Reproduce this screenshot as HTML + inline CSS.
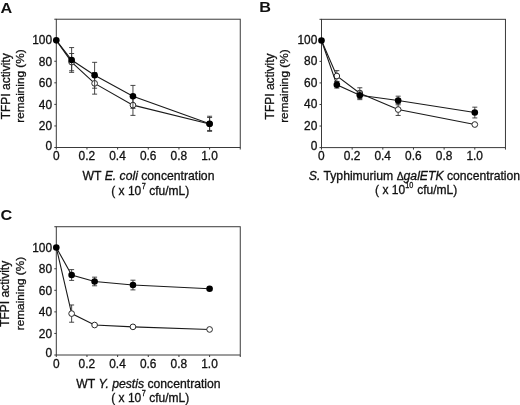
<!DOCTYPE html>
<html><head><meta charset="utf-8"><title>Figure</title>
<style>
html,body{margin:0;padding:0;background:#fff;}
body{width:520px;height:405px;overflow:hidden;}
svg{display:block;position:absolute;left:0;top:0;will-change:transform;transform:translateZ(0);}
svg text{font-family:"Liberation Sans",sans-serif;fill:#111;stroke:#111;stroke-width:0.3px;}
svg text.L{stroke:none;}
</style></head><body>
<svg width="520" height="405" viewBox="0 0 520 405">
<rect width="520" height="405" fill="#fff"/>
<rect x="56.30" y="19.22" width="183.96" height="128.28" fill="none" stroke="#3a3a3a" stroke-width="1"/>
<line x1="54.30" x2="56.30" y1="147.50" y2="147.50" stroke="#3a3a3a" stroke-width="1"/>
<line x1="54.30" x2="56.30" y1="125.94" y2="125.94" stroke="#3a3a3a" stroke-width="1"/>
<line x1="54.30" x2="56.30" y1="104.38" y2="104.38" stroke="#3a3a3a" stroke-width="1"/>
<line x1="54.30" x2="56.30" y1="82.82" y2="82.82" stroke="#3a3a3a" stroke-width="1"/>
<line x1="54.30" x2="56.30" y1="61.26" y2="61.26" stroke="#3a3a3a" stroke-width="1"/>
<line x1="54.30" x2="56.30" y1="39.70" y2="39.70" stroke="#3a3a3a" stroke-width="1"/>
<line x1="54.30" x2="56.30" y1="19.22" y2="19.22" stroke="#3a3a3a" stroke-width="1"/>
<line x1="86.96" x2="86.96" y1="147.50" y2="149.50" stroke="#3a3a3a" stroke-width="1"/>
<line x1="117.62" x2="117.62" y1="147.50" y2="149.50" stroke="#3a3a3a" stroke-width="1"/>
<line x1="148.28" x2="148.28" y1="147.50" y2="149.50" stroke="#3a3a3a" stroke-width="1"/>
<line x1="178.94" x2="178.94" y1="147.50" y2="149.50" stroke="#3a3a3a" stroke-width="1"/>
<line x1="209.60" x2="209.60" y1="147.50" y2="149.50" stroke="#3a3a3a" stroke-width="1"/>
<line x1="56.30" x2="56.30" y1="147.50" y2="149.50" stroke="#3a3a3a" stroke-width="1"/>
<line x1="240.26" x2="240.26" y1="147.50" y2="149.50" stroke="#3a3a3a" stroke-width="1"/>
<text x="52.10" y="149.70" text-anchor="end" font-size="11.9">0</text>
<text x="52.10" y="130.44" text-anchor="end" font-size="11.9">20</text>
<text x="52.10" y="108.88" text-anchor="end" font-size="11.9">40</text>
<text x="52.10" y="87.32" text-anchor="end" font-size="11.9">60</text>
<text x="52.10" y="65.76" text-anchor="end" font-size="11.9">80</text>
<text x="52.10" y="44.20" text-anchor="end" font-size="11.9">100</text>
<text x="56.20" y="160.10" text-anchor="middle" font-size="11.9">0</text>
<text x="86.86" y="160.10" text-anchor="middle" font-size="11.9">0.2</text>
<text x="117.52" y="160.10" text-anchor="middle" font-size="11.9">0.4</text>
<text x="148.18" y="160.10" text-anchor="middle" font-size="11.9">0.6</text>
<text x="178.84" y="160.10" text-anchor="middle" font-size="11.9">0.8</text>
<text x="209.50" y="160.10" text-anchor="middle" font-size="11.9">1.0</text>
<text transform="translate(9.70,86.30) rotate(-90)" text-anchor="middle" font-size="12">TFPI activity</text>
<text transform="translate(24.30,86.00) rotate(-90)" text-anchor="middle" font-size="11.8">remaining (%)</text>
<text x="148.48" y="180.10" text-anchor="middle" font-size="12.2">WT <tspan font-style="italic">E. coli</tspan> concentration</text>
<text x="141.28" y="194.60" text-anchor="end" font-size="12">( x 10</text>
<text transform="translate(141.78,188.60) scale(0.85,1)" font-size="8.6">7</text>
<text x="149.28" y="194.60" font-size="12">cfu/mL)</text>
<text class="L" transform="translate(0.6,12.5) scale(1.12,1)" font-size="14.5" font-weight="bold">A</text>
<polyline points="56.30,40.35 71.63,62.12 94.62,83.36 132.95,105.13 209.60,124.00" fill="none" stroke="#1a1a1a" stroke-width="1.1"/>
<path d="M71.63,53.50V70.75M69.13,53.50h5M69.13,70.75h5" stroke="#333" stroke-width="0.9" fill="none"/>
<path d="M94.62,72.58V94.14M92.12,72.58h5M92.12,94.14h5" stroke="#333" stroke-width="0.9" fill="none"/>
<path d="M132.95,94.89V115.38M130.45,94.89h5M130.45,115.38h5" stroke="#333" stroke-width="0.9" fill="none"/>
<path d="M209.60,117.53V130.47M207.10,117.53h5M207.10,130.47h5" stroke="#333" stroke-width="0.9" fill="none"/>
<circle cx="71.63" cy="62.12" r="2.85" fill="#fff" stroke="#2a2a2a" stroke-width="1"/>
<circle cx="94.62" cy="83.36" r="2.85" fill="#fff" stroke="#2a2a2a" stroke-width="1"/>
<circle cx="132.95" cy="105.13" r="2.85" fill="#fff" stroke="#2a2a2a" stroke-width="1"/>
<circle cx="209.60" cy="124.00" r="2.85" fill="#fff" stroke="#2a2a2a" stroke-width="1"/>
<polyline points="56.30,40.35 71.63,59.97 94.62,75.27 132.95,96.19 209.60,123.78" fill="none" stroke="#1a1a1a" stroke-width="1.1"/>
<path d="M71.63,47.57V72.36M69.13,47.57h5M69.13,72.36h5" stroke="#333" stroke-width="0.9" fill="none"/>
<path d="M94.62,62.34V88.21M92.12,62.34h5M92.12,88.21h5" stroke="#333" stroke-width="0.9" fill="none"/>
<path d="M132.95,85.41V108.37M130.45,85.41h5M130.45,108.37h5" stroke="#333" stroke-width="0.9" fill="none"/>
<path d="M209.60,116.24V131.33M207.10,116.24h5M207.10,131.33h5" stroke="#333" stroke-width="0.9" fill="none"/>
<circle cx="56.30" cy="40.35" r="3.30" fill="#000"/>
<circle cx="71.63" cy="59.97" r="3.30" fill="#000"/>
<circle cx="94.62" cy="75.27" r="3.30" fill="#000"/>
<circle cx="132.95" cy="96.19" r="3.30" fill="#000"/>
<circle cx="209.60" cy="123.78" r="3.30" fill="#000"/>
<rect x="321.50" y="19.32" width="183.96" height="128.28" fill="none" stroke="#3a3a3a" stroke-width="1"/>
<line x1="319.50" x2="321.50" y1="147.60" y2="147.60" stroke="#3a3a3a" stroke-width="1"/>
<line x1="319.50" x2="321.50" y1="126.04" y2="126.04" stroke="#3a3a3a" stroke-width="1"/>
<line x1="319.50" x2="321.50" y1="104.48" y2="104.48" stroke="#3a3a3a" stroke-width="1"/>
<line x1="319.50" x2="321.50" y1="82.92" y2="82.92" stroke="#3a3a3a" stroke-width="1"/>
<line x1="319.50" x2="321.50" y1="61.36" y2="61.36" stroke="#3a3a3a" stroke-width="1"/>
<line x1="319.50" x2="321.50" y1="39.80" y2="39.80" stroke="#3a3a3a" stroke-width="1"/>
<line x1="319.50" x2="321.50" y1="19.32" y2="19.32" stroke="#3a3a3a" stroke-width="1"/>
<line x1="352.16" x2="352.16" y1="147.60" y2="149.60" stroke="#3a3a3a" stroke-width="1"/>
<line x1="382.82" x2="382.82" y1="147.60" y2="149.60" stroke="#3a3a3a" stroke-width="1"/>
<line x1="413.48" x2="413.48" y1="147.60" y2="149.60" stroke="#3a3a3a" stroke-width="1"/>
<line x1="444.14" x2="444.14" y1="147.60" y2="149.60" stroke="#3a3a3a" stroke-width="1"/>
<line x1="474.80" x2="474.80" y1="147.60" y2="149.60" stroke="#3a3a3a" stroke-width="1"/>
<line x1="321.50" x2="321.50" y1="147.60" y2="149.60" stroke="#3a3a3a" stroke-width="1"/>
<line x1="505.46" x2="505.46" y1="147.60" y2="149.60" stroke="#3a3a3a" stroke-width="1"/>
<text x="317.30" y="149.80" text-anchor="end" font-size="11.9">0</text>
<text x="317.30" y="129.94" text-anchor="end" font-size="11.9">20</text>
<text x="317.30" y="108.38" text-anchor="end" font-size="11.9">40</text>
<text x="317.30" y="86.82" text-anchor="end" font-size="11.9">60</text>
<text x="317.30" y="65.26" text-anchor="end" font-size="11.9">80</text>
<text x="317.30" y="43.70" text-anchor="end" font-size="11.9">100</text>
<text x="321.40" y="160.20" text-anchor="middle" font-size="11.9">0</text>
<text x="352.06" y="160.20" text-anchor="middle" font-size="11.9">0.2</text>
<text x="382.72" y="160.20" text-anchor="middle" font-size="11.9">0.4</text>
<text x="413.38" y="160.20" text-anchor="middle" font-size="11.9">0.6</text>
<text x="444.04" y="160.20" text-anchor="middle" font-size="11.9">0.8</text>
<text x="474.70" y="160.20" text-anchor="middle" font-size="11.9">1.0</text>
<text transform="translate(273.80,86.40) rotate(-90)" text-anchor="middle" font-size="12">TFPI activity</text>
<text transform="translate(288.40,86.10) rotate(-90)" text-anchor="middle" font-size="11.8">remaining (%)</text>
<text x="414.48" y="179.50" text-anchor="middle" font-size="12.2"><tspan font-style="italic">S.</tspan> Typhimurium <tspan font-size="10.4">&#916;</tspan><tspan font-style="italic">galETK</tspan> concentration</text>
<text x="405.08" y="194.00" text-anchor="end" font-size="12">( x 10</text>
<text transform="translate(405.28,188.00) scale(0.85,1)" font-size="8.6">10</text>
<text x="417.28" y="194.00" font-size="12">cfu/mL)</text>
<text class="L" transform="translate(259.2,12.2) scale(1.12,1)" font-size="14.5" font-weight="bold">B</text>
<polyline points="321.50,40.45 336.83,76.02 359.82,93.16 398.15,109.55 474.80,124.53" fill="none" stroke="#1a1a1a" stroke-width="1.1"/>
<path d="M336.83,70.63V81.41M334.33,70.63h5M334.33,81.41h5" stroke="#333" stroke-width="0.9" fill="none"/>
<path d="M359.82,87.77V98.55M357.32,87.77h5M357.32,98.55h5" stroke="#333" stroke-width="0.9" fill="none"/>
<path d="M398.15,103.62V115.48M395.65,103.62h5M395.65,115.48h5" stroke="#333" stroke-width="0.9" fill="none"/>
<circle cx="336.83" cy="76.02" r="2.85" fill="#fff" stroke="#2a2a2a" stroke-width="1"/>
<circle cx="359.82" cy="93.16" r="2.85" fill="#fff" stroke="#2a2a2a" stroke-width="1"/>
<circle cx="398.15" cy="109.55" r="2.85" fill="#fff" stroke="#2a2a2a" stroke-width="1"/>
<circle cx="474.80" cy="124.53" r="2.85" fill="#fff" stroke="#2a2a2a" stroke-width="1"/>
<polyline points="321.50,40.45 336.83,84.86 359.82,95.32 398.15,100.49 474.80,112.56" fill="none" stroke="#1a1a1a" stroke-width="1.1"/>
<path d="M336.83,81.63V88.09M334.33,81.63h5M334.33,88.09h5" stroke="#333" stroke-width="0.9" fill="none"/>
<path d="M359.82,91.00V99.63M357.32,91.00h5M357.32,99.63h5" stroke="#333" stroke-width="0.9" fill="none"/>
<path d="M398.15,96.18V104.80M395.65,96.18h5M395.65,104.80h5" stroke="#333" stroke-width="0.9" fill="none"/>
<path d="M474.80,107.17V117.95M472.30,107.17h5M472.30,117.95h5" stroke="#333" stroke-width="0.9" fill="none"/>
<circle cx="321.50" cy="40.45" r="3.30" fill="#000"/>
<circle cx="336.83" cy="84.86" r="3.30" fill="#000"/>
<circle cx="359.82" cy="95.32" r="3.30" fill="#000"/>
<circle cx="398.15" cy="100.49" r="3.30" fill="#000"/>
<circle cx="474.80" cy="112.56" r="3.30" fill="#000"/>
<rect x="56.30" y="226.72" width="183.96" height="128.28" fill="none" stroke="#3a3a3a" stroke-width="1"/>
<line x1="54.30" x2="56.30" y1="355.00" y2="355.00" stroke="#3a3a3a" stroke-width="1"/>
<line x1="54.30" x2="56.30" y1="333.44" y2="333.44" stroke="#3a3a3a" stroke-width="1"/>
<line x1="54.30" x2="56.30" y1="311.88" y2="311.88" stroke="#3a3a3a" stroke-width="1"/>
<line x1="54.30" x2="56.30" y1="290.32" y2="290.32" stroke="#3a3a3a" stroke-width="1"/>
<line x1="54.30" x2="56.30" y1="268.76" y2="268.76" stroke="#3a3a3a" stroke-width="1"/>
<line x1="54.30" x2="56.30" y1="247.20" y2="247.20" stroke="#3a3a3a" stroke-width="1"/>
<line x1="54.30" x2="56.30" y1="226.72" y2="226.72" stroke="#3a3a3a" stroke-width="1"/>
<line x1="86.96" x2="86.96" y1="355.00" y2="357.00" stroke="#3a3a3a" stroke-width="1"/>
<line x1="117.62" x2="117.62" y1="355.00" y2="357.00" stroke="#3a3a3a" stroke-width="1"/>
<line x1="148.28" x2="148.28" y1="355.00" y2="357.00" stroke="#3a3a3a" stroke-width="1"/>
<line x1="178.94" x2="178.94" y1="355.00" y2="357.00" stroke="#3a3a3a" stroke-width="1"/>
<line x1="209.60" x2="209.60" y1="355.00" y2="357.00" stroke="#3a3a3a" stroke-width="1"/>
<line x1="56.30" x2="56.30" y1="355.00" y2="357.00" stroke="#3a3a3a" stroke-width="1"/>
<line x1="240.26" x2="240.26" y1="355.00" y2="357.00" stroke="#3a3a3a" stroke-width="1"/>
<text x="52.10" y="357.20" text-anchor="end" font-size="11.9">0</text>
<text x="52.10" y="337.94" text-anchor="end" font-size="11.9">20</text>
<text x="52.10" y="316.38" text-anchor="end" font-size="11.9">40</text>
<text x="52.10" y="294.82" text-anchor="end" font-size="11.9">60</text>
<text x="52.10" y="273.26" text-anchor="end" font-size="11.9">80</text>
<text x="52.10" y="251.70" text-anchor="end" font-size="11.9">100</text>
<text x="56.20" y="367.60" text-anchor="middle" font-size="11.9">0</text>
<text x="86.86" y="367.60" text-anchor="middle" font-size="11.9">0.2</text>
<text x="117.52" y="367.60" text-anchor="middle" font-size="11.9">0.4</text>
<text x="148.18" y="367.60" text-anchor="middle" font-size="11.9">0.6</text>
<text x="178.84" y="367.60" text-anchor="middle" font-size="11.9">0.8</text>
<text x="209.50" y="367.60" text-anchor="middle" font-size="11.9">1.0</text>
<text transform="translate(9.10,293.80) rotate(-90)" text-anchor="middle" font-size="12">TFPI activity</text>
<text transform="translate(23.70,293.50) rotate(-90)" text-anchor="middle" font-size="11.8">remaining (%)</text>
<text x="148.48" y="387.60" text-anchor="middle" font-size="12.2">WT <tspan font-style="italic">Y. pestis</tspan> concentration</text>
<text x="141.28" y="402.10" text-anchor="end" font-size="12">( x 10</text>
<text transform="translate(141.78,396.10) scale(0.85,1)" font-size="8.6">7</text>
<text x="149.28" y="402.10" font-size="12">cfu/mL)</text>
<text class="L" transform="translate(0.6,220.3) scale(1.12,1)" font-size="14.5" font-weight="bold">C</text>
<polyline points="56.30,247.52 71.63,313.60 94.62,325.03 132.95,326.86 209.60,329.45" fill="none" stroke="#1a1a1a" stroke-width="1.1"/>
<path d="M71.63,304.98V322.23M69.13,304.98h5M69.13,322.23h5" stroke="#333" stroke-width="0.9" fill="none"/>
<circle cx="71.63" cy="313.60" r="2.85" fill="#fff" stroke="#2a2a2a" stroke-width="1"/>
<circle cx="94.62" cy="325.03" r="2.85" fill="#fff" stroke="#2a2a2a" stroke-width="1"/>
<circle cx="132.95" cy="326.86" r="2.85" fill="#fff" stroke="#2a2a2a" stroke-width="1"/>
<circle cx="209.60" cy="329.45" r="2.85" fill="#fff" stroke="#2a2a2a" stroke-width="1"/>
<polyline points="56.30,247.52 71.63,275.01 94.62,281.48 132.95,285.04 209.60,288.70" fill="none" stroke="#1a1a1a" stroke-width="1.1"/>
<path d="M71.63,269.62V280.40M69.13,269.62h5M69.13,280.40h5" stroke="#333" stroke-width="0.9" fill="none"/>
<path d="M94.62,277.17V285.79M92.12,277.17h5M92.12,285.79h5" stroke="#333" stroke-width="0.9" fill="none"/>
<path d="M132.95,280.19V289.89M130.45,280.19h5M130.45,289.89h5" stroke="#333" stroke-width="0.9" fill="none"/>
<circle cx="56.30" cy="247.52" r="3.30" fill="#000"/>
<circle cx="71.63" cy="275.01" r="3.30" fill="#000"/>
<circle cx="94.62" cy="281.48" r="3.30" fill="#000"/>
<circle cx="132.95" cy="285.04" r="3.30" fill="#000"/>
<circle cx="209.60" cy="288.70" r="3.30" fill="#000"/>
</svg>
</body></html>
